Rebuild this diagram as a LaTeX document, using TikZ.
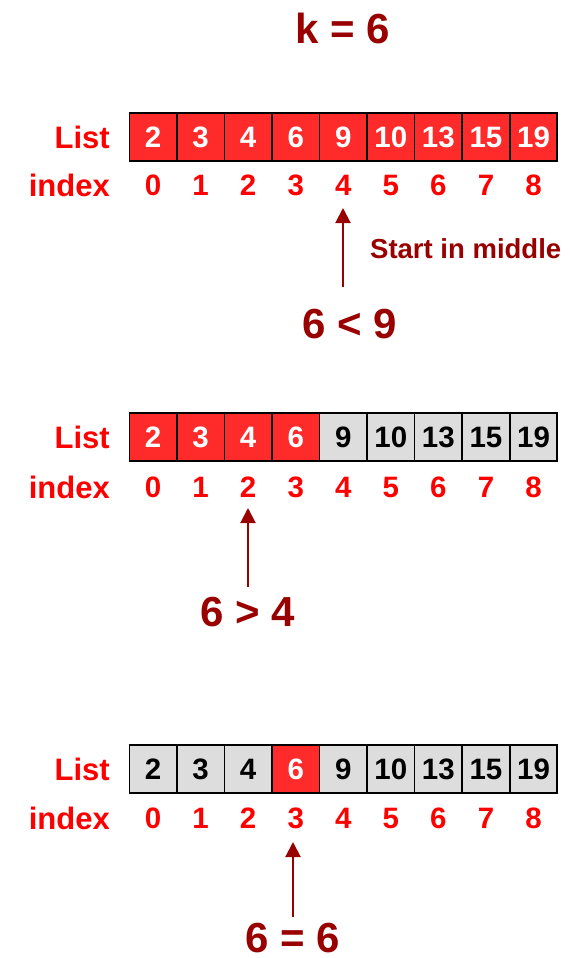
\documentclass[tikz,border=0pt]{standalone}
\usepackage{fontspec}
\setmainfont{Liberation Sans}
\usetikzlibrary{arrows.meta}
\definecolor{cellred}{RGB}{255,42,42}
\definecolor{cellgrey}{RGB}{221,221,221}
\definecolor{darkred}{RGB}{153,0,0}
\definecolor{idxred}{RGB}{255,0,0}
\begin{document}
\begin{tikzpicture}[x=1pt,y=-1pt,
  cell/.style={draw=black, line width=1.6pt, minimum width=47.55pt, minimum height=48pt,
    inner sep=0pt, font=\fontsize{29.5}{29.5}\selectfont\bfseries},
  hot/.style={cell, fill=cellred, text=white},
  cold/.style={cell, fill=cellgrey, text=black},
  idx/.style={text=idxred, inner sep=0pt, font=\fontsize{29.5}{29.5}\selectfont\bfseries},
  lbl/.style={text=idxred, inner sep=0pt, anchor=east, font=\fontsize{31}{31}\selectfont\bfseries},
  big/.style={text=darkred, inner sep=0pt, font=\fontsize{42}{42}\selectfont\bfseries},
  note/.style={text=darkred, inner sep=0pt, anchor=west, font=\fontsize{27.5}{27.5}\selectfont\bfseries},
  arr/.style={draw=darkred, line width=2pt, -{Triangle[width=15pt,length=15pt]}}
]
\useasboundingbox (0,0) rectangle (576,958);

\node[big] (k) at (343,28) {k = 6};

% Row 1
\node[lbl] (list1) at (110,137) {List};
\node[lbl] (index1) at (110,185) {index};
\foreach \v [count=\i from 0] in {2,3,4,6,9,10,13,15,19} {
  \node[hot] (a-\i) at ({153.1+47.55*\i},137) {\v};
  \node[idx] (ia-\i) at ({153.1+47.55*\i},185) {\i};
}
\node[note] (start) at (370,249) {Start in middle};
\node[big] (cmp1) at (350,324) {6 < 9};
\coordinate (s1) at (343,287);
\coordinate (t1) at (343,208);
\draw[arr] (s1) -- (t1);

% Row 2
\node[lbl] (list2) at (110,437) {List};
\node[lbl] (index2) at (110,487) {index};
\foreach \v [count=\i from 0] in {2,3,4,6,9,10,13,15,19} {
  \ifnum\i<4 \def\st{hot}\else\def\st{cold}\fi
  \node[\st] (b-\i) at ({153.1+47.55*\i},437) {\v};
  \node[idx] (ib-\i) at ({153.1+47.55*\i},487) {\i};
}
\node[big] (cmp2) at (248,612) {6 > 4};
\coordinate (s2) at (248,587);
\coordinate (t2) at (248,508);
\draw[arr] (s2) -- (t2);

% Row 3
\node[lbl] (list3) at (110,769) {List};
\node[lbl] (index3) at (110,818) {index};
\foreach \v [count=\i from 0] in {2,3,4,6,9,10,13,15,19} {
  \ifnum\i=3 \def\st{hot}\else\def\st{cold}\fi
  \node[\st] (c-\i) at ({153.1+47.55*\i},769) {\v};
  \node[idx] (ic-\i) at ({153.1+47.55*\i},818) {\i};
}
\node[big] (cmp3) at (293,938) {6 = 6};
\coordinate (s3) at (293,917);
\coordinate (t3) at (293,842);
\draw[arr] (s3) -- (t3);
\end{tikzpicture}
\end{document}
